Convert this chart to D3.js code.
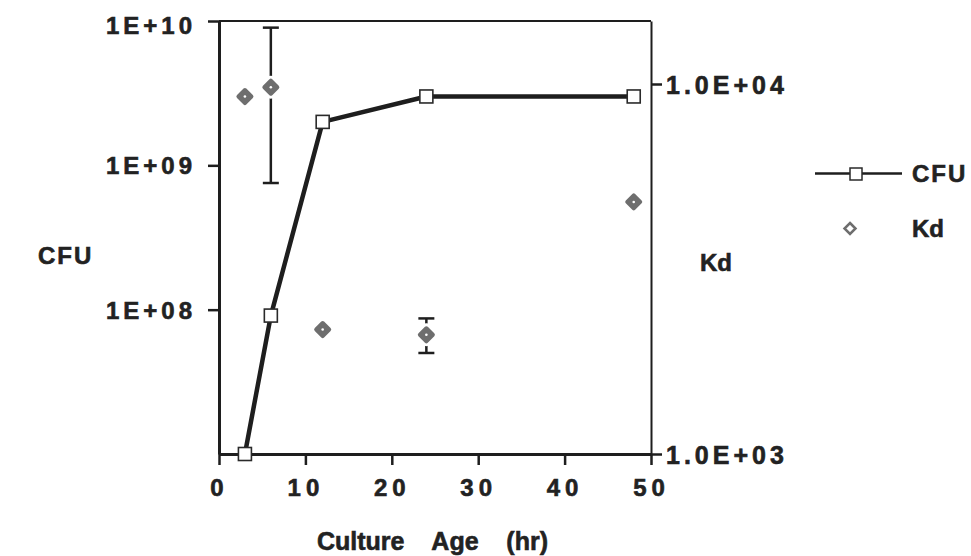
<!DOCTYPE html>
<html>
<head>
<meta charset="utf-8">
<script src="https://cdn.jsdelivr.net/npm/d3@7"></script>
<style>
  body { margin: 0; background: #fff; }
  svg { display: block; font-family: "Liberation Sans", Arial, sans-serif; font-weight: bold; }
  text { fill: #222; stroke: #222; stroke-width: 0.6px; }
</style>
</head>
<body>
<svg id="chart"></svg>
<script>
// culture age (hr)
var hours = [3, 6, 12, 24, 48];
// colony forming units per sample
var cfu = [1e7, 9.1e7, 2.0e9, 3.0e9, 3.0e9];
// Kd with standard deviation (0 = no bar drawn)
var kd = [9250, 9800, 2170, 2100, 4800];
var kdErr = [0, 4400, 0, 225, 0];

var xTicks = [0, 10, 20, 30, 40, 50];
var leftTicks = [1e8, 1e9, 1e10];
var leftTickLabels = ['1E+08', '1E+09', '1E+10'];
var rightTicks = [1e3, 1e4];
var rightTickLabels = ['1.0E+03', '1.0E+04'];

var W = 971, H = 556;
var svg = d3.select('#chart').attr('width', W).attr('height', H);

var plot = {left: 219, right: 651, top: 21, bottom: 454};

var x = d3.scaleLinear().domain([0, 50]).range([plot.left, plot.right]);
var yL = d3.scaleLog().domain([1e7, 1e10]).range([plot.bottom, plot.top]);
var yR = d3.scaleLog().domain([1000, 14800]).range([plot.bottom, plot.top]);

var ink = '#1e1e1e';
var grey = '#6e6e6e';
var font = '"Liberation Sans", Arial, sans-serif';

// frame: top and right are thin, left and bottom heavy
svg.append('line')
  .attr('x1', plot.left).attr('x2', plot.right)
  .attr('y1', plot.top).attr('y2', plot.top)
  .attr('stroke', ink).attr('stroke-width', 2);

/* ------- AXES -------*/
var gx = svg.append('g').attr('class', 'axis')
  .attr('transform', 'translate(0,' + plot.bottom + ')')
  .call(d3.axisBottom(x).tickValues(xTicks).tickSize(11).tickSizeOuter(0).tickFormat(d3.format('d')));
gx.select('.domain').attr('stroke', ink).attr('stroke-width', 3);
gx.selectAll('.tick line').attr('stroke', ink).attr('stroke-width', 2.5);
gx.selectAll('.tick text')
  .attr('y', 42).attr('dy', 0)
  .attr('font-size', 24).attr('letter-spacing', 5)
  .attr('font-family', font).attr('font-weight', 'bold');

var gl = svg.append('g').attr('class', 'axis')
  .attr('transform', 'translate(' + plot.left + ',0)')
  .call(d3.axisLeft(yL).tickValues(leftTicks).tickSize(11).tickSizeOuter(0)
    .tickFormat(function(d, i) { return leftTickLabels[i]; }));
gl.select('.domain').attr('stroke', ink).attr('stroke-width', 3);
gl.selectAll('.tick line').attr('stroke', ink).attr('stroke-width', 2.5);
gl.selectAll('.tick text')
  .attr('x', -23).attr('dy', '0.36em')
  .attr('y', function(d) { return Math.max(0, plot.top + 4 - yL(d)); })
  .attr('font-size', 24).attr('letter-spacing', 4)
  .attr('font-family', font).attr('font-weight', 'bold');

var gr = svg.append('g').attr('class', 'axis')
  .attr('transform', 'translate(' + plot.right + ',0)')
  .call(d3.axisRight(yR).tickValues(rightTicks).tickSize(11).tickSizeOuter(0)
    .tickFormat(function(d, i) { return rightTickLabels[i]; }));
gr.select('.domain').attr('stroke', ink).attr('stroke-width', 2);
gr.selectAll('.tick line').attr('stroke', ink).attr('stroke-width', 2.5);
gr.selectAll('.tick text')
  .attr('x', 15).attr('dy', '0.37em')
  .attr('font-size', 25).attr('letter-spacing', 4)
  .attr('font-family', font).attr('font-weight', 'bold');

/* ------- AXIS TITLES -------*/
var title = function(tx, ty, str) {
  return svg.append('text')
    .attr('x', tx).attr('y', ty)
    .attr('font-size', 24)
    .style('white-space', 'pre')
    .text(str);
};
title(38, 264, 'CFU').attr('letter-spacing', 2);
title(700, 271, 'Kd');
title(317, 550, 'Culture    Age    (hr)').attr('font-size', 25);

/* ------- CFU LINE -------*/
var pts = hours.map(function(h, i) { return {h: h, v: cfu[i]}; });
var line = d3.line().x(function(d) { return x(d.h); }).y(function(d) { return yL(d.v); });

svg.append('path')
  .datum(pts)
  .attr('d', line)
  .attr('fill', 'none')
  .attr('stroke', ink)
  .attr('stroke-width', 4.5)
  .attr('stroke-linejoin', 'round');

svg.selectAll('rect.cfu').data(pts).enter()
  .append('rect')
  .attr('class', 'cfu')
  .attr('x', function(d) { return x(d.h) - 6.5; })
  .attr('y', function(d) { return yL(d.v) - 6.5; })
  .attr('width', 13).attr('height', 13)
  .attr('fill', '#fff').attr('stroke', '#2a2a2a').attr('stroke-width', 1.6);

/* ------- KD POINTS -------*/
var kdPts = hours.map(function(h, i) { return {h: h, v: kd[i], e: kdErr[i]}; });
var diamond = function(r) { return 'M0,' + (-r) + 'L' + r + ',0L0,' + r + 'L' + (-r) + ',0Z'; };

var bars = svg.selectAll('g.err').data(kdPts.filter(function(d) { return d.e > 0; })).enter()
  .append('g').attr('class', 'err')
  .attr('transform', function(d) { return 'translate(' + x(d.h) + ',0)'; });
bars.append('line')
  .attr('x1', 0).attr('x2', 0)
  .attr('y1', function(d) { return yR(d.v + d.e); })
  .attr('y2', function(d) { return yR(d.v - d.e); })
  .attr('stroke', ink).attr('stroke-width', 2.5);
bars.selectAll('line.cap')
  .data(function(d) { return [d.v + d.e, d.v - d.e]; }).enter()
  .append('line').attr('class', 'cap')
  .attr('x1', -8).attr('x2', 8)
  .attr('y1', function(v) { return yR(v); })
  .attr('y2', function(v) { return yR(v); })
  .attr('stroke', ink).attr('stroke-width', 2.5);

var marks = svg.selectAll('g.kd').data(kdPts).enter()
  .append('g').attr('class', 'kd')
  .attr('transform', function(d) { return 'translate(' + x(d.h) + ',' + yR(d.v) + ')'; });
marks.append('path')
  .attr('d', diamond(6.5))
  .attr('fill', '#fff').attr('stroke', '#fff').attr('stroke-width', 10).attr('stroke-linejoin', 'round');
marks.append('path')
  .attr('d', diamond(6.5))
  .attr('fill', grey).attr('stroke', grey).attr('stroke-width', 4).attr('stroke-linejoin', 'round');
marks.append('circle').attr('r', 1.3).attr('fill', '#fff');

/* ------- LEGEND -------*/
var lg = svg.append('g');
lg.append('line')
  .attr('x1', 815).attr('x2', 902).attr('y1', 173.5).attr('y2', 173.5)
  .attr('stroke', ink).attr('stroke-width', 2.5);
lg.append('rect')
  .attr('x', 850).attr('y', 168).attr('width', 12).attr('height', 12)
  .attr('fill', '#fff').attr('stroke', '#2a2a2a').attr('stroke-width', 1.5);
lg.append('text').attr('x', 912).attr('y', 182)
  .attr('font-size', 24).attr('letter-spacing', 2).text('CFU');
lg.append('path')
  .attr('transform', 'translate(850,228.5)')
  .attr('d', diamond(5.5))
  .attr('fill', '#fff').attr('stroke', grey).attr('stroke-width', 2.5);
lg.append('text').attr('x', 912).attr('y', 237)
  .attr('font-size', 24).text('Kd');
</script>
</body>
</html>
